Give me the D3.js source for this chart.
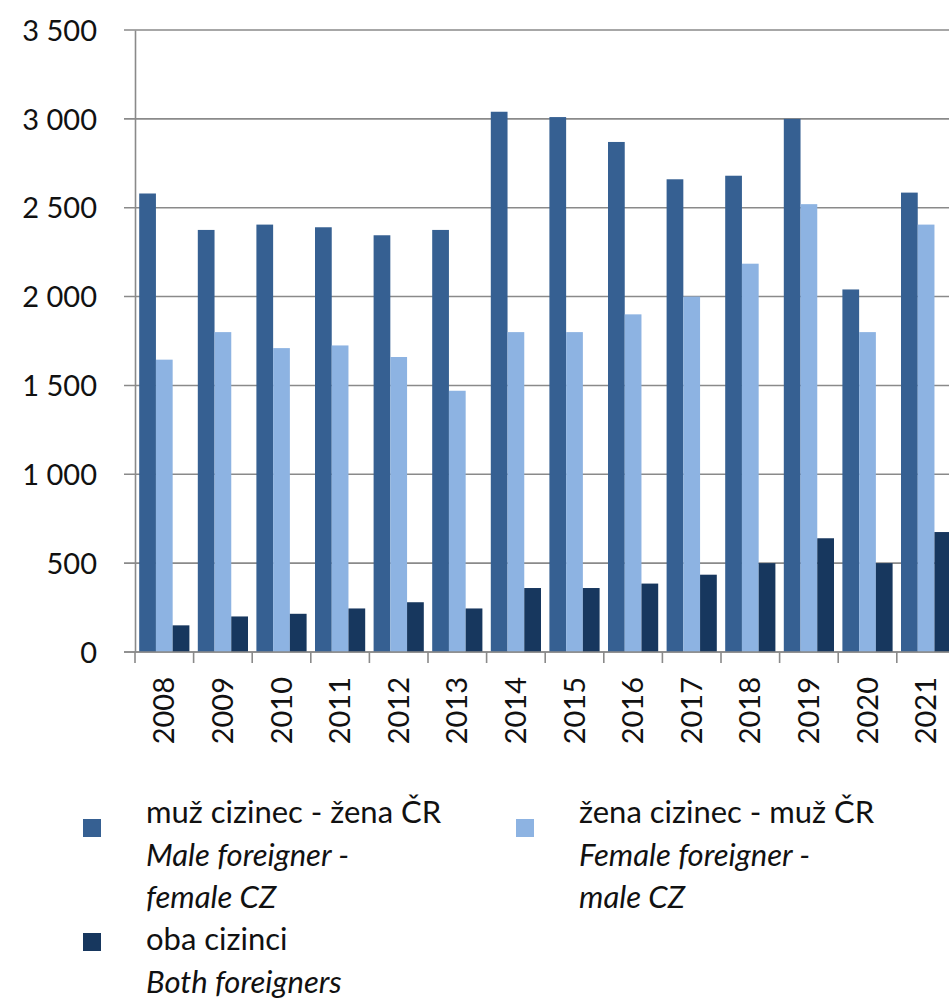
<!DOCTYPE html>
<html>
<head>
<meta charset="utf-8">
<script src="https://cdn.jsdelivr.net/npm/d3@7"></script>
<style>
  body { margin: 0; background: #fff; }
  svg { display: block; font-family: Lato, "Open Sans", sans-serif; }
</style>
</head>
<body>
<div id="chart"></div>
<script>
const years = ["2008","2009","2010","2011","2012","2013","2014","2015","2016","2017","2018","2019","2020","2021"];
const maleForeigner = [2580,2375,2405,2390,2345,2375,3040,3010,2870,2660,2680,3000,2040,2585];
const femaleForeigner = [1645,1800,1710,1725,1660,1470,1800,1800,1900,2000,2185,2520,1800,2405];
const bothForeigners = [150,200,215,245,280,245,360,360,385,435,500,640,500,675];
const yTicks = [0,500,1000,1500,2000,2500,3000,3500];

const seriesNames = ["male","female","both"];
const seriesColors = {male: "#366092", female: "#8db3e2", both: "#17375e"};
const values = {male: maleForeigner, female: femaleForeigner, both: bothForeigners};

const w = 949, h = 998;
const plotLeft = 135, plotTop = 30, plotBottom = 652;
const catWidth = 58.6;

const svg = d3.select("#chart").append("svg")
    .attr("width", w)
    .attr("height", h);

// scales
const x0 = d3.scaleBand()
    .domain(years)
    .range([plotLeft, plotLeft + catWidth * years.length])
    .paddingInner(0).paddingOuter(0);

const x1 = d3.scaleBand()
    .domain(seriesNames)
    .range([4.2, catWidth - 4.2]);

const y = d3.scaleLinear()
    .domain([0, 3500])
    .range([plotBottom, plotTop]);

// gridlines
svg.append("g")
    .selectAll("line")
    .data(yTicks)
    .join("line")
    .attr("x1", plotLeft - 11)
    .attr("x2", w)
    .attr("y1", d => y(d))
    .attr("y2", d => y(d))
    .attr("stroke", "#8a8a8a")
    .attr("stroke-width", 1.6);

// y axis
const yAxis = d3.axisLeft(y)
    .tickValues(yTicks)
    .tickSize(0)
    .tickPadding(38)
    .tickFormat(d => d3.format(",")(d).replace(/,/g, " "));

svg.append("g")
    .attr("transform", `translate(${plotLeft},0)`)
    .call(yAxis)
    .call(g => g.select(".domain").attr("stroke", "#8a8a8a").attr("stroke-width", 1.6))
    .call(g => g.selectAll("text")
        .attr("font-size", 29)
        .attr("font-family", "Lato, 'Open Sans', sans-serif")
        .attr("fill", "#111")
        .attr("dy", "0.35em"));

// bars
const groups = svg.append("g")
    .selectAll("g")
    .data(years)
    .join("g")
    .attr("transform", d => `translate(${x0(d)},0)`);

groups.selectAll("rect")
    .data((d, i) => seriesNames.map(s => ({s: s, v: values[s][i]})))
    .join("rect")
    .attr("x", d => x1(d.s))
    .attr("width", x1.bandwidth())
    .attr("y", d => y(d.v))
    .attr("height", d => y(0) - y(d.v))
    .attr("fill", d => seriesColors[d.s]);

// x axis
const xAxis = d3.axisBottom(x0)
    .tickSize(0)
    .tickFormat(d => d);

const gx = svg.append("g")
    .attr("transform", `translate(0,${plotBottom})`)
    .call(xAxis);

gx.select(".domain").remove();
gx.selectAll("text")
    .attr("font-size", 29)
    .attr("font-family", "Lato, 'Open Sans', sans-serif")
    .attr("fill", "#111")
    .attr("text-anchor", "end")
    .attr("transform", "rotate(-90)")
    .attr("x", -25)
    .attr("y", 0)
    .attr("dy", "0.35em");

svg.append("line")
    .attr("x1", plotLeft - 11).attr("x2", w)
    .attr("y1", plotBottom).attr("y2", plotBottom)
    .attr("stroke", "#8a8a8a").attr("stroke-width", 1.6);

svg.append("g")
    .selectAll("line")
    .data(years)
    .join("line")
    .attr("x1", d => x0(d))
    .attr("x2", d => x0(d))
    .attr("y1", plotBottom)
    .attr("y2", plotBottom + 11)
    .attr("stroke", "#8a8a8a")
    .attr("stroke-width", 1.6);

// legend
const legendItems = [
    {s: "male", x: 83, y: 819, ty: 823, lines: [["muž cizinec - žena ČR", false], ["Male foreigner -", true], ["female CZ", true]]},
    {s: "female", x: 516, y: 819, ty: 823, lines: [["žena cizinec - muž ČR", false], ["Female foreigner -", true], ["male CZ", true]]},
    {s: "both", x: 83, y: 933, ty: 950, lines: [["oba cizinci", false], ["Both foreigners", true]]}
];

const leg = svg.append("g").selectAll("g")
    .data(legendItems)
    .join("g");

leg.append("rect")
    .attr("x", d => d.x)
    .attr("y", d => d.y)
    .attr("width", 18)
    .attr("height", 18)
    .attr("fill", d => seriesColors[d.s]);

leg.append("text")
    .attr("font-size", 31)
    .attr("fill", "#111")
    .selectAll("tspan")
    .data(d => d.lines.map((l, i) => ({t: l[0], it: l[1], x: d.x + 63, y: d.ty + i * 42.5})))
    .join("tspan")
    .attr("x", d => d.x)
    .attr("y", d => d.y)
    .attr("font-style", d => d.it ? "italic" : "normal")
    .text(d => d.t);
</script>
</body>
</html>
